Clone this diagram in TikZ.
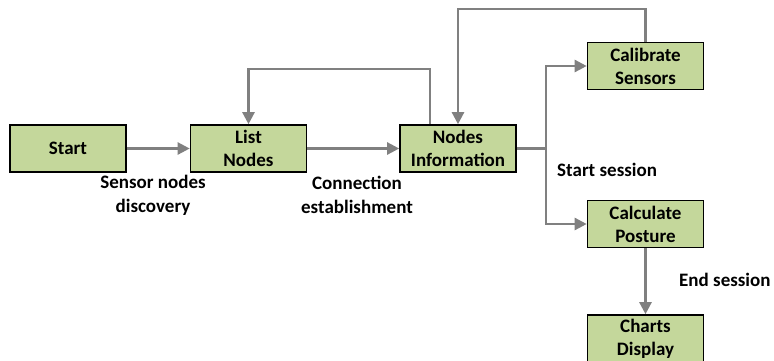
\documentclass[tikz,border=0pt]{standalone}
\usepackage{fontspec}
\setmainfont{Carlito}
\usetikzlibrary{arrows.meta}

\definecolor{boxgreen}{RGB}{196,215,155}
\definecolor{flowgray}{RGB}{128,128,128}

\tikzset{
  box/.style={draw=black, line width=1.6pt, fill=boxgreen, minimum width=116pt,
    minimum height=47pt, inner sep=1pt, align=center,
    font=\fontsize{19}{23}\selectfont\bfseries},
  flow/.style={draw=flowgray, line width=2.4pt},
  arr/.style={flow, -{Triangle[length=12pt,width=12pt]}},
  lbl/.style={font=\fontsize{19}{24}\selectfont\bfseries, align=center, inner sep=0pt}
}

\begin{document}
\begin{tikzpicture}[x=1pt, y=-1pt]
    \useasboundingbox (0,0) rectangle (774,360);
    \node[box] (start) at (68,148.5) {Start};
    \node[box] (list) at (248.5,148.5) {List\\Nodes};
    \node[box] (info) at (458,148.5) {Nodes\\Information};
    \node[box] (calib) at (645.5,66) {Calibrate\\Sensors};
    \node[box] (calc) at (645.5,224) {Calculate\\Posture};
    \node[box] (charts) at (645.5,338.5) {Charts\\Display};
    \coordinate (split) at (546,148.5);
    \draw[arr] (start) -- (list);
    \draw[arr] (list) -- (info);
    \draw[arr] ([xshift=-28pt]info.north) |- ([yshift=55pt]list.north) -- (list.north);
    \draw[arr] (calib.north) |- ([yshift=115pt]info.north) -- (info.north);
    \draw[flow] (info.east) -- (split);
    \draw[arr] (split) |- (calib.west);
    \draw[arr] (split) |- (calc.west);
    \draw[arr] (calc) -- (charts);
    \node[lbl] (discovery) at (153,195) {Sensor nodes\\discovery};
    \node[lbl] (establish) at (357,195) {Connection\\establishment};
    \node[lbl, anchor=west] (startsession) at (557,170) {Start session};
    \node[lbl, anchor=west] (endsession) at (679,280) {End session};
\end{tikzpicture}
\end{document}
